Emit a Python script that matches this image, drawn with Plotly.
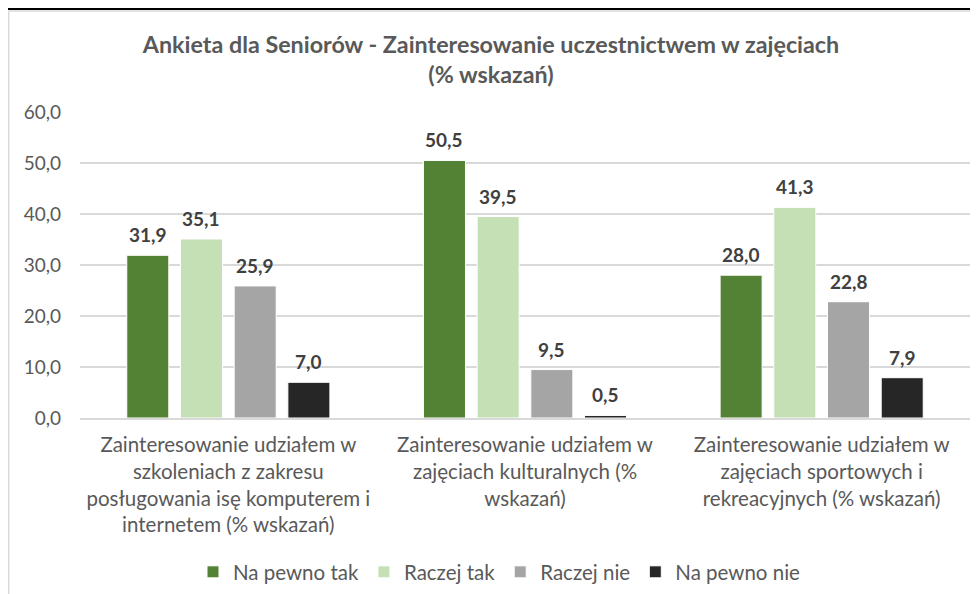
import plotly.graph_objects as go

categories = [
    "Zainteresowanie udziałem w<br>szkoleniach z zakresu<br>posługowania isę komputerem i<br>internetem (% wskazań)",
    "Zainteresowanie udziałem w<br>zajęciach kulturalnych (%<br>wskazań)",
    "Zainteresowanie udziałem w<br>zajęciach sportowych i<br>rekreacyjnych (% wskazań)",
]
series_names = ["Na pewno tak", "Raczej tak", "Raczej nie", "Na pewno nie"]
na_pewno_tak = [31.9, 50.5, 28.0]
raczej_tak = [35.1, 39.5, 41.3]
raczej_nie = [25.9, 9.5, 22.8]
na_pewno_nie = [7.0, 0.5, 7.9]
series_values = [na_pewno_tak, raczej_tak, raczej_nie, na_pewno_nie]
colors = ["#548235", "#C5E0B4", "#A5A5A5", "#262626"]
tick_values = [0, 10, 20, 30, 40, 50, 60]

FONT = "Lato, 'Open Sans', sans-serif"

# page is offset by the 8px body margin: screen = figure + 8
OFF = 8
W, H = 978, 594
L, R, T, B = 80 - OFF, W - (970 - OFF), 112 - OFF, H - (418 - OFF)
pw, ph = W - L - R, H - T - B
BARGAP, GROUPGAP = 0.276, 0.217

def sx(s):
    return (s - OFF - L) / pw

def sy(s):
    return (H - B - (s - OFF)) / ph

fig = go.Figure()
for name, vals, col in zip(series_names, series_values, colors):
    fig.add_trace(go.Bar(
        name=name, x=categories, y=vals,
        marker=dict(color=col, line=dict(color="white", width=1)),
        hovertemplate="%{y:.1f}<extra>" + name + "</extra>",
    ))

# data labels, placed through the axes (category + value), nudged to each bar's slot
slot_px = pw / len(categories) * (1 - BARGAP) / len(series_names)
annotations = []
for i, vals in enumerate(series_values):
    shift = (i - (len(series_names) - 1) / 2) * slot_px
    for cat, v in zip(categories, vals):
        annotations.append(dict(
            x=cat, y=v, xref="x", yref="y", text=f"{v:.1f}".replace(".", ","),
            showarrow=False, xanchor="center", yanchor="bottom",
            xshift=shift, yshift=7,
            font=dict(family=FONT, size=19, color="#404040", weight="bold"),
        ))

fig.update_layout(
    template="none",
    width=W, height=H,
    margin=dict(l=L, r=R, t=T, b=B, pad=0, autoexpand=False),
    paper_bgcolor="white", plot_bgcolor="white",
    separators=", ",
    barmode="group", bargap=BARGAP, bargroupgap=GROUPGAP,
    font=dict(family=FONT, size=19, color="#595959"),
    title=dict(
        text="<b>Ankieta dla Seniorów - Zainteresowanie uczestnictwem w zajęciach<br>(% wskazań)</b>",
        x=(491 - OFF) / W, xanchor="center", xref="container",
        y=1 - 45 / H, yanchor="middle", yref="container",
        font=dict(family=FONT, size=23.3, color="#595959"),
        automargin=False,
    ),
    xaxis=dict(showline=True, linecolor="#D9D9D9", linewidth=1.5, automargin=False,
               showgrid=False, zeroline=False, ticklabelstandoff=8,
               ticks="", tickfont=dict(size=20.5, color="#595959")),
    yaxis=dict(range=[0, 60], tickvals=tick_values, tickformat=".1f", automargin=False,
               showgrid=True, gridcolor="#D9D9D9", gridwidth=1.5,
               zeroline=False, ticks="", ticklabelstandoff=18, showline=False,
               tickfont=dict(size=19, color="#595959")),
    legend=dict(orientation="h", x=sx(193), xanchor="left",
                y=sy(572), yanchor="middle",
                font=dict(size=20.5, color="#595959"),
                itemwidth=30, tracegroupgap=0),
    annotations=annotations,
    shapes=[
        dict(type="line", xref="paper", yref="paper",
             x0=sx(8), x1=sx(978 + OFF), y0=sy(9), y1=sy(9),
             line=dict(color="black", width=2)),
        dict(type="line", xref="paper", yref="paper",
             x0=sx(8.5), x1=sx(978 + OFF), y0=sy(11), y1=sy(11),
             line=dict(color="#D9D9D9", width=1.5)),
        dict(type="line", xref="paper", yref="paper",
             x0=sx(8.7), x1=sx(8.7), y0=sy(11), y1=sy(594 + OFF),
             line=dict(color="#D9D9D9", width=1.5)),
    ],
)

fig.write_html("out.html")
